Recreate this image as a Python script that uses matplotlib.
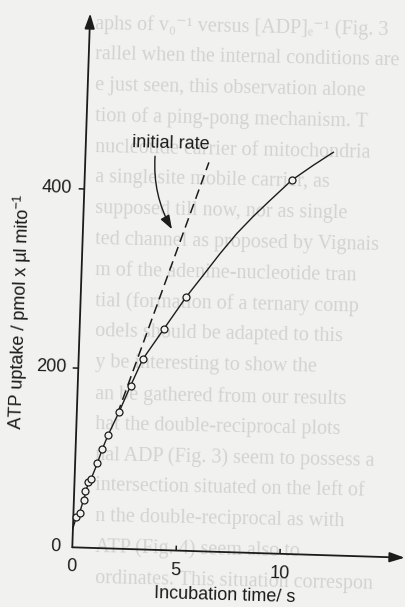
import numpy as np
import matplotlib
matplotlib.use("Agg")
import matplotlib.pyplot as plt
from matplotlib.transforms import Affine2D
from matplotlib.patches import FancyArrowPatch

plt.rcParams['font.family'] = ['Liberation Sans', 'DejaVu Sans']
plt.rcParams['mathtext.fontset'] = 'custom'
plt.rcParams['mathtext.rm'] = 'Liberation Sans'
plt.rcParams['mathtext.it'] = 'Liberation Sans:italic'
plt.rcParams['mathtext.bf'] = 'Liberation Sans:bold'

# ATP uptake measurements (incubation time in s, uptake in pmol / µl mito)
time_s = [0.15, 0.31, 0.50, 0.53, 0.66, 0.81, 1.07, 1.29, 1.55, 2.04, 2.54, 3.08, 4.06, 5.07, 9.96]
uptake = [34, 38.5, 53, 63.5, 73, 76.5, 94.5, 111, 127, 153, 182, 212, 247, 283, 417]

# hand-drawn curve through the measurements
fit_time = [0.0, 0.15, 0.31, 0.52, 0.66, 0.81, 1.07, 1.29, 1.55, 2.04, 2.54, 3.08,
            4.06, 5.07, 5.86, 6.63, 7.40, 8.17, 8.95, 9.96, 10.98, 11.92]
fit_uptake = [21.5, 34, 40, 58, 72, 78, 94.5, 111, 127, 153, 182, 212,
              247, 283, 308, 332.6, 355.5, 375.3, 393.7, 417, 434.5, 449.6]

# tangent giving the initial rate
rate_time = [1.95, 5.95]
rate_uptake = [150, 434]

x_ticks = [5, 10]
x_tick_labels = ['0', '5', '10']
y_ticks = [200, 400]
y_tick_labels = ['0', '200', '400']

# text of the facing page showing through the paper
facing_page = [
    "aphs of v\u2080\u207b\u00b9 versus [ADP]\u2091\u207b\u00b9 (Fig. 3",
    "rallel when the internal conditions are",
    "e just seen, this observation alone",
    "tion of a ping-pong mechanism. T",
    "nucleotide carrier of mitochondria",
    "a singlesite mobile carrier, as",
    "supposed till now, nor as single",
    "ted channel as proposed by Vignais",
    "m of the adenine-nucleotide tran",
    "tial (formation of a ternary comp",
    "odels should be adapted to this",
    "y be interesting to show the",
    "an be gathered from our results",
    "hat the double-reciprocal plots",
    "nal ADP (Fig. 3) seem to possess a",
    "intersection situated on the left of",
    "n the double-reciprocal as with",
    "ATP (Fig. 4) seem also to",
    "ordinates. This situation correspon",
]

paper = '#f1f1ef'
ink = '#1c1c1c'
ghost = '#d3d3d1'

fig = plt.figure(figsize=(4.06, 6.07), dpi=100)
fig.patch.set_facecolor(paper)
ax = fig.add_axes([0, 0, 1, 1])
ax.set_xlim(0, 406)
ax.set_ylim(607, 0)
ax.axis('off')

# the printed graph sits slightly askew on the page
page = Affine2D(np.array([[20.77, 0.030, 72.3],
                          [0.65, -0.8958, 547.3],
                          [0.0, 0.0, 1.0]])) + ax.transData

for k, line in enumerate(facing_page):
    ax.text(95, 24 + 30.8 * k, line, color=ghost, fontsize=14.5,
            family=['Liberation Serif', 'DejaVu Serif'],
            ha='left', va='center', rotation=-1.2, rotation_mode='anchor', zorder=0)

axis_arrow = dict(arrowstyle='-|>,head_length=0.6,head_width=0.2', lw=1.3,
                  color=ink, shrinkA=0, shrinkB=0, mutation_scale=15)
ax.annotate('', xy=(16.0, 0), xytext=(0, 0), xycoords=page, textcoords=page,
            arrowprops=axis_arrow, zorder=3)
ax.annotate('', xy=(0, 596), xytext=(0, 0), xycoords=page, textcoords=page,
            arrowprops=axis_arrow, zorder=3)

for t in x_ticks:
    ax.plot([t, t], [0, 5.5], color=ink, lw=1.1, transform=page, solid_capstyle='butt')
for u in y_ticks:
    ax.plot([-0.27, 0], [u, u], color=ink, lw=1.1, transform=page, solid_capstyle='butt')

for t, lab in zip([0] + x_ticks, x_tick_labels):
    ax.text(t, -22, lab, transform=page, ha='center', va='center', fontsize=13,
            color=ink, rotation=-1.65, rotation_mode='anchor')
for u, lab in zip([0] + y_ticks, y_tick_labels):
    ax.text(-0.58, u, lab, transform=page, ha='right', va='center', fontsize=13,
            color=ink, rotation=-1.65, rotation_mode='anchor')

ax.text(7.42, -48.3, 'Incubation time/ s', transform=page, ha='center', va='center',
        fontsize=13, color=ink, rotation=-1.65, rotation_mode='anchor')
ax.text(-2.895, 260.7, 'ATP uptake / pmol x \u00b5l mito$^{-1}$', transform=page,
        ha='center', va='center', fontsize=13, color=ink, rotation=88.1,
        rotation_mode='anchor')

ax.plot(fit_time, fit_uptake, color=ink, lw=1.0, transform=page, zorder=3)
ax.plot(rate_time, rate_uptake, color=ink, lw=1.1, ls=(0, (6.5, 3.5)), transform=page, zorder=3)
ax.plot(time_s, uptake, 'o', ms=5, mfc=paper, mec=ink, mew=0.9, transform=page, zorder=4)

ax.text(4.10, 454, 'initial rate', transform=page, ha='center', va='center',
        fontsize=13, color=ink, rotation=-1.65, rotation_mode='anchor')
pointer = FancyArrowPatch((3.35, 439), (4.28, 358.2), transform=page,
                          connectionstyle='arc3,rad=0.15',
                          arrowstyle='-|>,head_length=0.7,head_width=0.25',
                          mutation_scale=12, lw=1.0, color=ink, shrinkA=0, shrinkB=0)
ax.add_patch(pointer)

fig.savefig('out.png', dpi=100, facecolor=paper)
